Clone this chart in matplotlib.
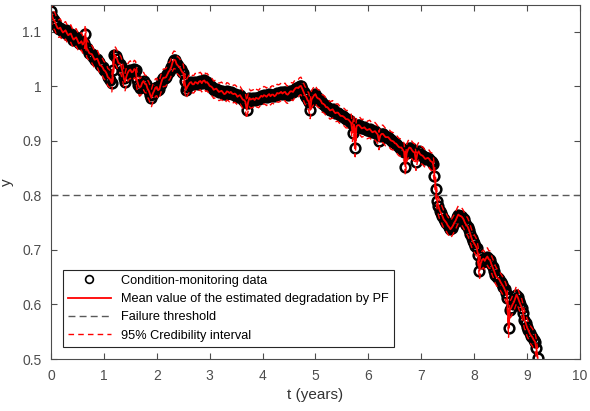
import numpy as np
from matplotlib import pyplot as plt

plt.rcParams['font.family'] = ['Liberation Sans', 'DejaVu Sans']

# inspection times (years): main grid every 0.05 year, plus mid-points
t_a = np.round(np.arange(185) * 0.05, 3)
t_b = np.round(np.arange(184) * 0.05 + 0.025, 3)

y_a = [
    1.139, 1.122, 1.112, 1.106, 1.103, 1.101, 1.098, 1.096, 1.091, 1.088,
    1.085, 1.080, 1.077, 1.097, 1.066, 1.060, 1.054, 1.050, 1.045, 1.038,
    1.030, 1.024, 1.015, 1.006, 1.058, 1.050, 1.042, 1.028, 1.008, 1.025,
    1.031, 1.027, 1.030, 1.003, 1.000, 1.010, 1.004, 0.992, 0.979, 0.992,
    0.999, 0.995, 1.012, 1.016, 1.022, 1.030, 1.045, 1.048, 1.038, 1.032,
    1.025, 0.994, 1.003, 1.008, 1.004, 1.007, 1.009, 1.006, 1.011, 1.008,
    1.001, 0.998, 0.995, 0.993, 0.991, 0.989, 0.987, 0.990, 0.990, 0.986,
    0.985, 0.983, 0.980, 0.975, 0.957, 0.979, 0.977, 0.975, 0.978, 0.980,
    0.981, 0.983, 0.984, 0.982, 0.985, 0.984, 0.987, 0.990, 0.989, 0.986,
    0.988, 0.991, 0.994, 0.998, 1.000, 0.996, 0.984, 0.975, 0.957, 0.980,
    0.986, 0.978, 0.974, 0.968, 0.962, 0.959, 0.957, 0.954, 0.952, 0.949,
    0.946, 0.943, 0.940, 0.936, 0.915, 0.887, 0.929, 0.926, 0.924, 0.922,
    0.921, 0.919, 0.917, 0.915, 0.900, 0.913, 0.910, 0.907, 0.904, 0.900,
    0.896, 0.892, 0.888, 0.884, 0.853, 0.884, 0.887, 0.880, 0.862, 0.881,
    0.874, 0.870, 0.868, 0.867, 0.862, 0.836, 0.790, 0.772, 0.762, 0.753,
    0.745, 0.738, 0.745, 0.754, 0.765, 0.762, 0.756, 0.746, 0.737, 0.722,
    0.712, 0.703, 0.662, 0.682, 0.680, 0.688, 0.682, 0.668, 0.655, 0.648,
    0.641, 0.633, 0.622, 0.556, 0.594, 0.604, 0.618, 0.606, 0.594, 0.572,
    0.558, 0.547, 0.540, 0.532, 0.502,
]
y_b = [
    1.128, 1.119, 1.107, 1.108, 1.099, 1.103, 1.094, 1.097, 1.086, 1.090,
    1.079, 1.083, 1.080, 1.070, 1.061, 1.059, 1.049, 1.051, 1.039, 1.035,
    1.028, 1.017, 1.012, 1.030, 1.055, 1.043, 1.038, 1.016, 1.018, 1.029,
    1.026, 1.032, 1.012, 0.998, 1.007, 1.005, 0.996, 0.985, 0.987, 0.998,
    0.993, 1.004, 1.016, 1.017, 1.027, 1.036, 1.049, 1.041, 1.036, 1.027,
    1.010, 0.999, 1.007, 1.004, 1.008, 1.005, 1.010, 1.010, 1.007, 1.005,
    1.000, 0.994, 0.996, 0.990, 0.992, 0.986, 0.991, 0.988, 0.987, 0.987,
    0.981, 0.984, 0.976, 0.972, 0.970, 0.976, 0.978, 0.979, 0.977, 0.983,
    0.984, 0.981, 0.986, 0.985, 0.982, 0.988, 0.988, 0.987, 0.990, 0.985,
    0.991, 0.990, 0.997, 0.997, 1.001, 0.990, 0.981, 0.972, 0.976, 0.984,
    0.980, 0.977, 0.969, 0.966, 0.962, 0.956, 0.958, 0.951, 0.952, 0.946,
    0.945, 0.940, 0.939, 0.933, 0.930, 0.927, 0.929, 0.923, 0.925, 0.920,
    0.922, 0.916, 0.918, 0.912, 0.910, 0.913, 0.907, 0.907, 0.901, 0.899,
    0.895, 0.889, 0.888, 0.880, 0.878, 0.888, 0.883, 0.879, 0.877, 0.876,
    0.873, 0.867, 0.869, 0.863, 0.858, 0.812, 0.780, 0.768, 0.756, 0.750,
    0.742, 0.741, 0.750, 0.760, 0.763, 0.760, 0.750, 0.743, 0.730, 0.716,
    0.708, 0.690, 0.676, 0.684, 0.685, 0.683, 0.674, 0.662, 0.650, 0.646,
    0.637, 0.628, 0.612, 0.590, 0.600, 0.611, 0.613, 0.600, 0.584, 0.566,
    0.553, 0.543, 0.535, 0.520,
]

# merge both sets in time order
t_obs = np.concatenate([t_a, t_b])
y_obs = np.concatenate([y_a, y_b])
order = np.argsort(t_obs)
t_obs = t_obs[order]
y_obs = y_obs[order]

# PF estimate follows the data closely
pf_mean = y_obs
ci_half = 0.016
threshold = 0.8

fig = plt.figure(figsize=(5.9, 4.11), dpi=100)
ax = fig.add_axes([0.0864, 0.1265, 0.8966, 0.8621])

ax.plot(t_obs, y_obs, 'o', mfc='none', mec='black', ms=7, mew=1.8,
        label='Condition-monitoring data')
ax.plot(t_obs, pf_mean, '-', color='red', lw=1.3,
        label='Mean value of the estimated degradation by PF')
ax.axhline(threshold, color='0.35', ls='--', lw=1.0, dashes=(5, 3),
           label='Failure threshold')
ax.plot(t_obs, pf_mean + ci_half, '--', color='red', lw=1.0, dashes=(4, 3),
        label='95% Credibility interval')
ax.plot(t_obs, pf_mean - ci_half, '--', color='red', lw=1.0, dashes=(4, 3))

ax.set_xlim(0, 10)
ax.set_ylim(0.5, 1.15)
ax.set_xticks(range(0, 11))
ax.set_yticks([0.5, 0.6, 0.7, 0.8, 0.9, 1.0, 1.1])
ax.set_yticklabels(['0.5', '0.6', '0.7', '0.8', '0.9', '1', '1.1'])
ax.tick_params(direction='in', top=True, right=True, length=4, pad=7,
               labelsize=10, colors='0.3')
for s in ax.spines.values():
    s.set_color('0.3')
    s.set_linewidth(0.8)

ax.set_xlabel('t (years)', fontsize=11, color='0.2', labelpad=4)
ax.set_ylabel('y', fontsize=11, color='0.2', labelpad=6)

leg = ax.legend(loc='lower left', bbox_to_anchor=(0.022, 0.034),
                borderaxespad=0, fontsize=9.2, fancybox=False,
                framealpha=1, edgecolor='0.15', handlelength=3.4,
                labelspacing=0.5, borderpad=0.4, markerscale=0.8)
leg.get_frame().set_linewidth(0.8)
leg.legend_handles[0].set_markeredgewidth(1.2)

fig.savefig('out.png', dpi=100)
